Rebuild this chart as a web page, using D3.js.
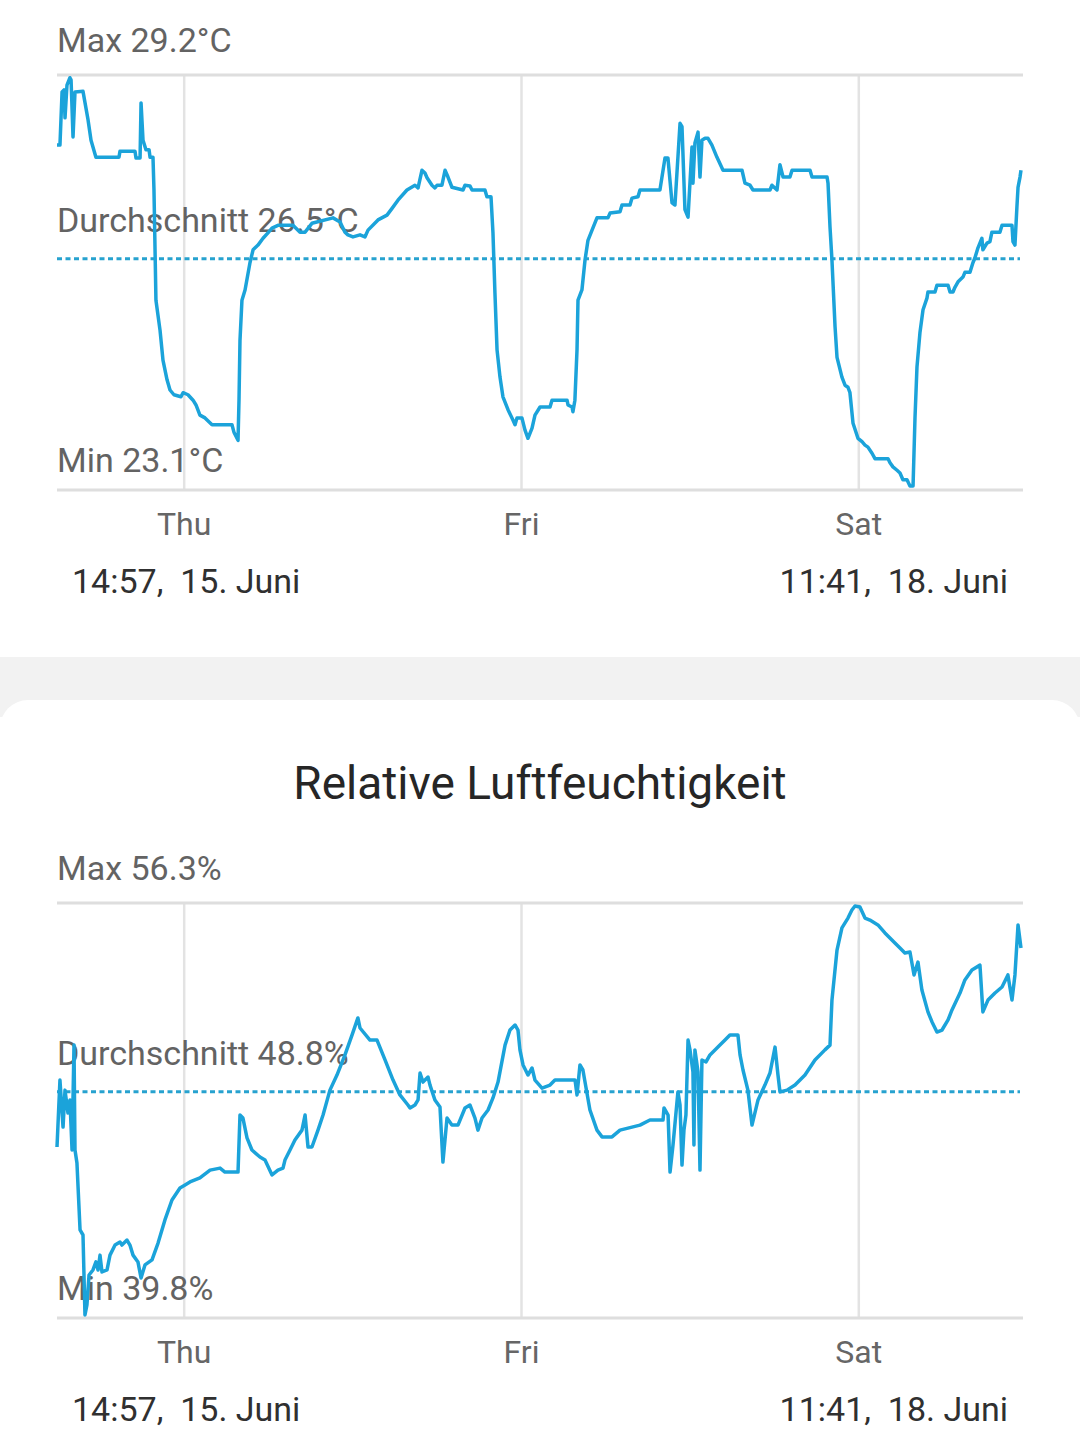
<!DOCTYPE html>
<html>
<head>
<meta charset="utf-8">
<script src="https://cdn.jsdelivr.net/npm/d3@7"></script>
<style>
  body { margin: 0; background: #fff; }
  svg { display: block; font-family: Roboto, "Noto Sans", sans-serif; }
  text { white-space: pre; }
</style>
</head>
<body>
<div id="chart"></div>
<script>
// time range of both charts
const startTime = new Date(2022, 5, 15, 14, 57);
const endTime = new Date(2022, 5, 18, 11, 41);
const startLabel = '14:57,  15. Juni';
const endLabel = '11:41,  18. Juni';

// temperature: hours after start, °C
const tempHours = [0, 0.21, 0.36, 0.50, 0.57, 0.71, 0.92, 1.00, 1.14, 1.28, 1.85, 2.21, 2.42, 2.77, 4.41, 4.48, 5.55, 5.62, 5.91, 5.98,
  6.12, 6.33, 6.55, 6.62, 6.83, 6.90, 7.04, 7.33, 7.54, 7.83, 8.04, 8.32, 8.82, 8.97, 9.32, 9.68, 9.89, 10.17, 10.53, 11.03,
  12.45, 12.59, 12.88, 12.95, 13.02, 13.16, 13.38, 13.73, 13.95, 14.30, 14.66, 15.01, 15.30, 15.72, 16.79, 17.29, 17.65, 18.14, 19.64, 20.14,
  20.49, 20.70, 21.06, 21.56, 21.91, 22.13, 22.84, 23.48, 23.84, 24.26, 24.90, 25.47, 25.69, 25.97, 26.18, 26.33, 26.68, 26.89, 27.04, 27.39,
  27.61, 27.82, 28.10, 28.89, 29.03, 29.38, 29.53, 30.45, 30.59, 30.88, 31.02, 31.16, 31.31, 31.52, 31.73, 32.09, 32.44, 32.59, 32.73, 33.08,
  33.30, 33.51, 33.80, 34.01, 34.37, 35.08, 35.22, 36.29, 36.36, 36.64, 36.71, 36.85, 37.00, 37.07, 37.35, 37.57, 37.78, 38.07, 38.42, 39.20,
  39.35, 40.06, 40.20, 40.77, 40.91, 41.34, 41.48, 42.90, 43.26, 43.47, 43.76, 43.97, 44.33, 44.47, 44.68, 44.90, 45.18, 45.25, 45.39, 45.61,
  45.75, 45.89, 46.11, 46.32, 46.60, 46.96, 47.39, 48.74, 48.95, 49.31, 49.52, 50.73, 50.87, 51.23, 51.44, 51.66, 52.15, 52.30, 53.58, 53.72,
  54.79, 54.86, 55.00, 55.14, 55.36, 55.50, 55.85, 56.07, 56.28, 56.42, 56.64, 56.99, 57.28, 57.49, 57.70, 57.99, 58.20, 59.13, 59.27, 59.48,
  59.77, 59.98, 60.19, 60.48, 60.69, 60.91, 61.05, 61.19, 61.40, 61.62, 61.90, 61.97, 62.47, 62.61, 63.40, 63.54, 63.75, 63.89, 64.11, 64.46,
  64.60, 64.96, 65.17, 65.31, 65.53, 65.81, 65.88, 66.17, 66.38, 66.52, 67.09, 67.24, 67.95, 68.02, 68.16, 68.30, 68.38, 68.52, 68.59];
const tempValues = [28.17, 28.17, 28.95, 28.98, 28.57, 29.05, 29.16, 29.13, 28.29, 28.95, 28.96, 28.54, 28.24, 27.99, 27.99, 28.08, 28.08, 27.98, 27.98, 28.79,
  28.24, 28.10, 28.10, 27.99, 27.99, 27.51, 25.89, 25.45, 25.01, 24.72, 24.57, 24.50, 24.47, 24.53, 24.50, 24.42, 24.35, 24.20, 24.16, 24.06,
  24.06, 23.95, 23.83, 24.42, 25.30, 25.89, 26.04, 26.44, 26.63, 26.70, 26.80, 26.88, 26.95, 26.99, 26.99, 26.89, 26.89, 27.02, 27.10, 27.04,
  26.89, 26.85, 26.82, 26.85, 26.82, 26.92, 27.07, 27.14, 27.24, 27.36, 27.51, 27.58, 27.54, 27.80, 27.76, 27.69, 27.58, 27.54, 27.58, 27.58,
  27.80, 27.70, 27.55, 27.51, 27.58, 27.57, 27.51, 27.51, 27.41, 27.41, 26.88, 26.00, 25.16, 24.76, 24.47, 24.28, 24.13, 24.06, 24.16, 24.16,
  23.98, 23.86, 24.01, 24.20, 24.32, 24.32, 24.42, 24.42, 24.35, 24.32, 24.25, 24.42, 25.16, 25.89, 26.04, 26.48, 26.77, 26.92, 27.10, 27.10,
  27.17, 27.19, 27.29, 27.29, 27.39, 27.41, 27.51, 27.51, 27.98, 27.98, 27.32, 27.29, 28.49, 28.44, 27.22, 27.11, 28.14, 27.61, 28.20, 28.36,
  27.70, 28.24, 28.27, 28.27, 28.17, 27.99, 27.80, 27.80, 27.61, 27.58, 27.51, 27.51, 27.58, 27.51, 27.88, 27.70, 27.70, 27.80, 27.80, 27.70,
  27.70, 27.61, 26.97, 26.48, 25.50, 25.05, 24.76, 24.64, 24.61, 24.53, 24.08, 23.86, 23.81, 23.76, 23.73, 23.64, 23.56, 23.56, 23.50, 23.44,
  23.39, 23.35, 23.25, 23.25, 23.16, 23.16, 24.17, 24.91, 25.41, 25.75, 25.92, 26.01, 26.01, 26.11, 26.11, 26.01, 26.01, 26.08, 26.16, 26.23,
  26.30, 26.30, 26.44, 26.51, 26.66, 26.80, 26.63, 26.73, 26.75, 26.89, 26.89, 26.99, 26.99, 26.75, 26.70, 27.26, 27.55, 27.70, 27.80];
const tempSummary = [29.2, 26.5, 23.1]; // max, average, min

// relative humidity: hours after start, %
const humHours = [0, 0.21, 0.43, 0.57, 0.78, 0.92, 1.07, 1.21, 1.28, 1.42, 1.64, 1.85, 1.99, 2.13, 2.28, 2.56, 2.77, 2.92, 3.06, 3.20,
  3.56, 3.77, 4.13, 4.48, 4.62, 4.98, 5.19, 5.41, 5.76, 5.98, 6.26, 6.76, 7.19, 7.68, 8.18, 8.75, 9.11, 9.46, 10.17, 10.89,
  11.60, 11.95, 12.88, 13.02, 13.23, 13.52, 13.87, 14.44, 14.80, 15.30, 15.72, 16.08, 16.22, 16.58, 16.93, 17.43, 17.65, 17.86, 18.14, 18.57,
  18.93, 19.42, 19.92, 20.49, 20.99, 21.41, 21.56, 22.27, 22.77, 23.34, 23.91, 24.40, 24.97, 25.12, 25.47, 25.69, 25.83, 26.04, 26.40, 26.54,
  26.89, 27.25, 27.46, 27.75, 28.10, 28.53, 29.03, 29.38, 29.74, 29.95, 30.24, 30.67, 31.02, 31.38, 31.88, 32.23, 32.59, 32.80, 32.94, 33.16,
  33.51, 33.80, 34.01, 34.51, 35.08, 35.43, 36.86, 37.00, 37.21, 37.42, 37.92, 38.42, 38.78, 39.49, 40.06, 41.48, 42.19, 43.12, 43.19, 43.48,
  43.62, 43.83, 44.18, 44.33, 44.47, 44.61, 44.75, 44.90, 45.04, 45.25, 45.32, 45.39, 45.61, 45.75, 45.89, 46.18, 46.46, 47.17, 47.53, 47.88,
  48.45, 48.60, 48.81, 49.16, 49.45, 49.88, 50.37, 50.73, 51.09, 51.30, 51.44, 51.94, 52.51, 53.22, 53.93, 54.64, 55.00, 55.14, 55.50, 55.85,
  56.28, 56.56, 56.78, 57.13, 57.49, 57.84, 58.41, 58.91, 59.62, 59.98, 60.33, 60.69, 60.98, 61.26, 61.54, 61.97, 62.26, 62.61, 62.97, 63.40,
  63.68, 64.25, 64.60, 65.10, 65.67, 65.88, 66.24, 66.74, 67.24, 67.66, 67.95, 68.16, 68.38, 68.59];
const humValues = [46.60, 49.26, 47.39, 48.86, 47.95, 48.47, 46.48, 50.65, 46.48, 45.96, 43.30, 43.10, 39.92, 40.32, 41.51, 41.71, 42.03, 41.71, 42.30, 41.63,
  41.71, 42.30, 42.70, 42.82, 42.70, 42.90, 42.70, 42.30, 42.03, 41.39, 41.91, 42.11, 42.78, 43.70, 44.49, 44.97, 45.09, 45.21, 45.37, 45.68,
  45.76, 45.60, 45.60, 47.87, 47.75, 46.96, 46.48, 46.20, 46.08, 45.49, 45.68, 45.76, 46.08, 46.48, 46.88, 47.27, 47.87, 46.60, 46.60, 47.27,
  47.87, 48.86, 49.46, 50.26, 51.05, 51.73, 51.33, 50.85, 50.85, 50.06, 49.26, 48.67, 48.27, 48.15, 48.27, 48.47, 49.54, 49.18, 49.38, 49.06,
  48.47, 48.19, 46.00, 47.75, 47.47, 47.47, 48.15, 48.27, 47.75, 47.27, 47.75, 48.07, 48.55, 49.18, 50.65, 51.25, 51.45, 51.25, 50.46, 49.86,
  49.46, 49.74, 49.26, 48.94, 49.06, 49.26, 49.26, 48.67, 49.86, 49.66, 48.07, 47.27, 47.00, 47.00, 47.27, 47.47, 47.67, 47.67, 48.15, 47.87,
  45.60, 46.68, 48.79, 48.27, 45.88, 47.27, 47.87, 50.85, 50.46, 49.58, 46.68, 50.46, 49.58, 45.68, 50.06, 49.98, 50.26, 50.65, 50.85, 51.05,
  51.05, 50.26, 49.66, 48.86, 47.47, 48.47, 49.06, 49.54, 50.57, 49.46, 48.79, 48.86, 49.06, 49.46, 50.06, 50.46, 50.65, 52.44, 54.43, 55.31,
  55.70, 56.02, 56.18, 56.14, 55.70, 55.62, 55.43, 55.11, 54.71, 54.51, 54.31, 54.35, 53.44, 53.95, 52.84, 51.97, 51.57, 51.17, 51.25, 51.65,
  52.05, 52.72, 53.24, 53.64, 53.83, 51.97, 52.44, 52.72, 52.96, 53.44, 52.44, 53.44, 55.43, 54.51];
const humSummary = [56.3, 48.8, 39.8]; // max, average, min

const width = 1080, height = 1452;
const left = 57, right = 1023;
const lineColor = '#1ba3da';

const svg = d3.select('#chart')
  .append('svg')
  .attr('width', width)
  .attr('height', height)
  .attr('viewBox', `0 0 ${width} ${height}`);

// page background: gray gap and rounded white card
svg.append('rect')
  .attr('x', 0).attr('y', 657)
  .attr('width', width).attr('height', 60)
  .attr('fill', '#f2f2f2');

svg.append('rect')
  .attr('x', 0).attr('y', 700)
  .attr('width', width).attr('height', height - 700 + 40)
  .attr('rx', 28)
  .attr('fill', '#fff');

svg.append('text')
  .attr('x', width / 2)
  .attr('y', 799)
  .attr('text-anchor', 'middle')
  .attr('font-size', 46)
  .attr('fill', '#262626')
  .text('Relative Luftfeuchtigkeit');

const x = d3.scaleTime()
  .domain([startTime, endTime])
  .range([left, right]);

function toDate(h) {
  return new Date(startTime.getTime() + h * 3600 * 1000);
}

function drawPanel(top, bottom, hours, values, summary, unit) {
  const [maxV, avgV, minV] = summary;
  const y = d3.scaleLinear()
    .domain([minV, maxV])
    .range([bottom, top]);

  const g = svg.append('g');
  const days = d3.timeDay.range(d3.timeDay.ceil(startTime), endTime);

  // grid
  g.selectAll('.vgrid')
    .data(days)
    .enter()
    .append('line')
    .attr('x1', d => x(d))
    .attr('x2', d => x(d))
    .attr('y1', top)
    .attr('y2', bottom)
    .attr('stroke', '#e3e3e3')
    .attr('stroke-width', 2.5);

  [top, bottom].forEach(v => {
    g.append('line')
      .attr('x1', left).attr('x2', right)
      .attr('y1', v).attr('y2', v)
      .attr('stroke', '#dedede')
      .attr('stroke-width', 3);
  });

  // average
  g.append('line')
    .attr('x1', left).attr('x2', right - 3)
    .attr('y1', y(avgV)).attr('y2', y(avgV))
    .attr('stroke', '#27a2cf')
    .attr('stroke-width', 3)
    .attr('stroke-dasharray', '5,3.5');

  const fmt = v => v.toFixed(1) + unit;
  const labels = [
    { text: 'Max ' + fmt(maxV), y: top - 23 },
    { text: 'Durchschnitt ' + fmt(avgV), y: y(avgV) - 27 },
    { text: 'Min ' + fmt(minV), y: bottom - 18 }
  ];

  g.selectAll('.stat')
    .data(labels)
    .enter()
    .append('text')
    .attr('x', left)
    .attr('y', d => d.y)
    .attr('font-size', 34)
    .attr('fill', '#636363')
    .text(d => d.text);

  // day labels
  g.selectAll('.day')
    .data(days)
    .enter()
    .append('text')
    .attr('x', d => x(d))
    .attr('y', bottom + 45)
    .attr('text-anchor', 'middle')
    .attr('font-size', 32)
    .attr('fill', '#666')
    .text(d3.timeFormat('%a'));

  g.append('text')
    .attr('x', 72)
    .attr('y', bottom + 103)
    .attr('font-size', 34)
    .attr('fill', '#303030')
    .text(startLabel);

  g.append('text')
    .attr('x', 1008)
    .attr('y', bottom + 103)
    .attr('text-anchor', 'end')
    .attr('font-size', 34)
    .attr('fill', '#303030')
    .text(endLabel);

  // series
  const line = d3.line()
    .x(d => x(toDate(d[0])))
    .y(d => y(d[1]));

  g.append('path')
    .datum(d3.zip(hours, values))
    .attr('d', line)
    .attr('fill', 'none')
    .attr('stroke', lineColor)
    .attr('stroke-width', 3.5)
    .attr('stroke-linejoin', 'round');
}

drawPanel(75, 490, tempHours, tempValues, tempSummary, '°C');
drawPanel(903, 1318, humHours, humValues, humSummary, '%');
</script>
</body>
</html>
